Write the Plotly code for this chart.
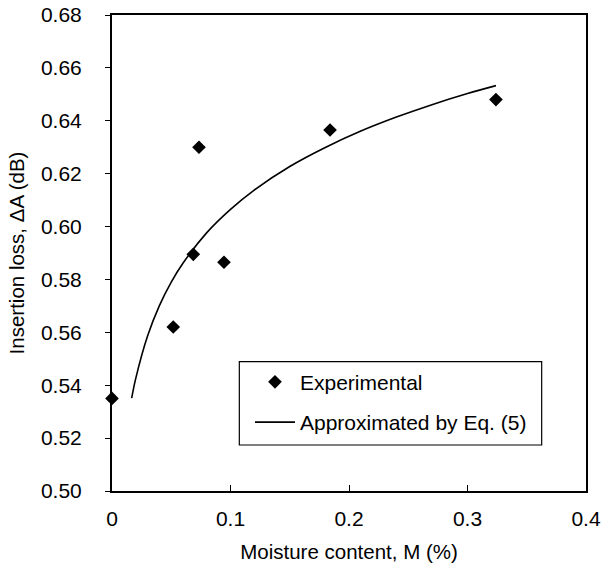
import plotly.graph_objects as go

# Experimental data
exp_M = [0.0, 0.0517, 0.0686, 0.0734, 0.0945, 0.184, 0.324]
exp_dA = [0.535, 0.562, 0.5895, 0.630, 0.5865, 0.6365, 0.648]

# Approximated curve
fit_M = [0.0166, 0.02, 0.03, 0.04, 0.05, 0.06, 0.08, 0.10, 0.12, 0.15, 0.18, 0.21, 0.24, 0.27, 0.30, 0.324]
fit_dA = [0.5351, 0.5425, 0.5586, 0.5701, 0.5790, 0.5862, 0.5977, 0.6065, 0.6138, 0.6227,
          0.6299, 0.6361, 0.6414, 0.6461, 0.6503, 0.6533]

x_ticks = [0, 0.1, 0.2, 0.3, 0.4]
x_labels = ["0", "0.1", "0.2", "0.3", "0.4"]
y_ticks = [0.50, 0.52, 0.54, 0.56, 0.58, 0.60, 0.62, 0.64, 0.66, 0.68]
y_labels = ["0.50", "0.52", "0.54", "0.56", "0.58", "0.60", "0.62", "0.64", "0.66", "0.68"]

FONT = "Liberation Sans, Arial, sans-serif"

fig = go.Figure()
fig.add_trace(go.Scatter(
    x=exp_M, y=exp_dA, mode="markers", name="Experimental",
    marker=dict(symbol="diamond", size=10.5, color="black"),
    legendgroup="a", cliponaxis=False,
))
fig.add_trace(go.Scatter(
    x=fit_M, y=fit_dA, mode="lines", name="Approximated by Eq. (5)",
    line=dict(color="black", width=1.6, shape="spline"),
    legendgroup="b",
))

# legend frame
fig.add_shape(type="rect", xref="paper", yref="paper",
              x0=0.2686, x1=0.9065, y0=0.0966, y1=0.2716,
              line=dict(color="black", width=1.2), fillcolor="white", layer="below")

fig.update_layout(
    width=603, height=572,
    margin=dict(l=112, r=17, t=15, b=81, autoexpand=False),
    paper_bgcolor="white", plot_bgcolor="white",
    font=dict(family=FONT, size=21, color="black"),
    showlegend=True,
    legend=dict(
        x=0.2911, y=0.2716, xanchor="left", yanchor="top",
        borderwidth=0, bgcolor="rgba(0,0,0,0)",
        font=dict(family=FONT, size=21, color="black"),
        traceorder="grouped", tracegroupgap=10, itemwidth=40,
    ),
)
fig.update_xaxes(
    range=[0, 0.4], tickvals=x_ticks, ticktext=x_labels, automargin=False,
    showline=True, linecolor="black", linewidth=2, mirror=True,
    ticks="inside", ticklen=6, tickwidth=1, tickcolor="black",
    showgrid=False, zeroline=False, ticklabelstandoff=8,
    title=dict(text="Moisture content, M (%)", standoff=15, font=dict(size=20.5)),
)
fig.update_yaxes(
    range=[0.50, 0.68], tickvals=y_ticks, ticktext=y_labels, automargin=False,
    showline=True, linecolor="black", linewidth=2, mirror=True,
    ticks="outside", ticklen=5, tickwidth=1, tickcolor="black",
    showgrid=False, zeroline=False, ticklabelstandoff=19,
    title=dict(text="Insertion loss, ΔA (dB)", standoff=11, font=dict(size=20.5)),
)

fig.write_html("out.html", config={"displayModeBar": False},
               post_script="document.body.style.margin='0';document.body.style.padding='0';")
